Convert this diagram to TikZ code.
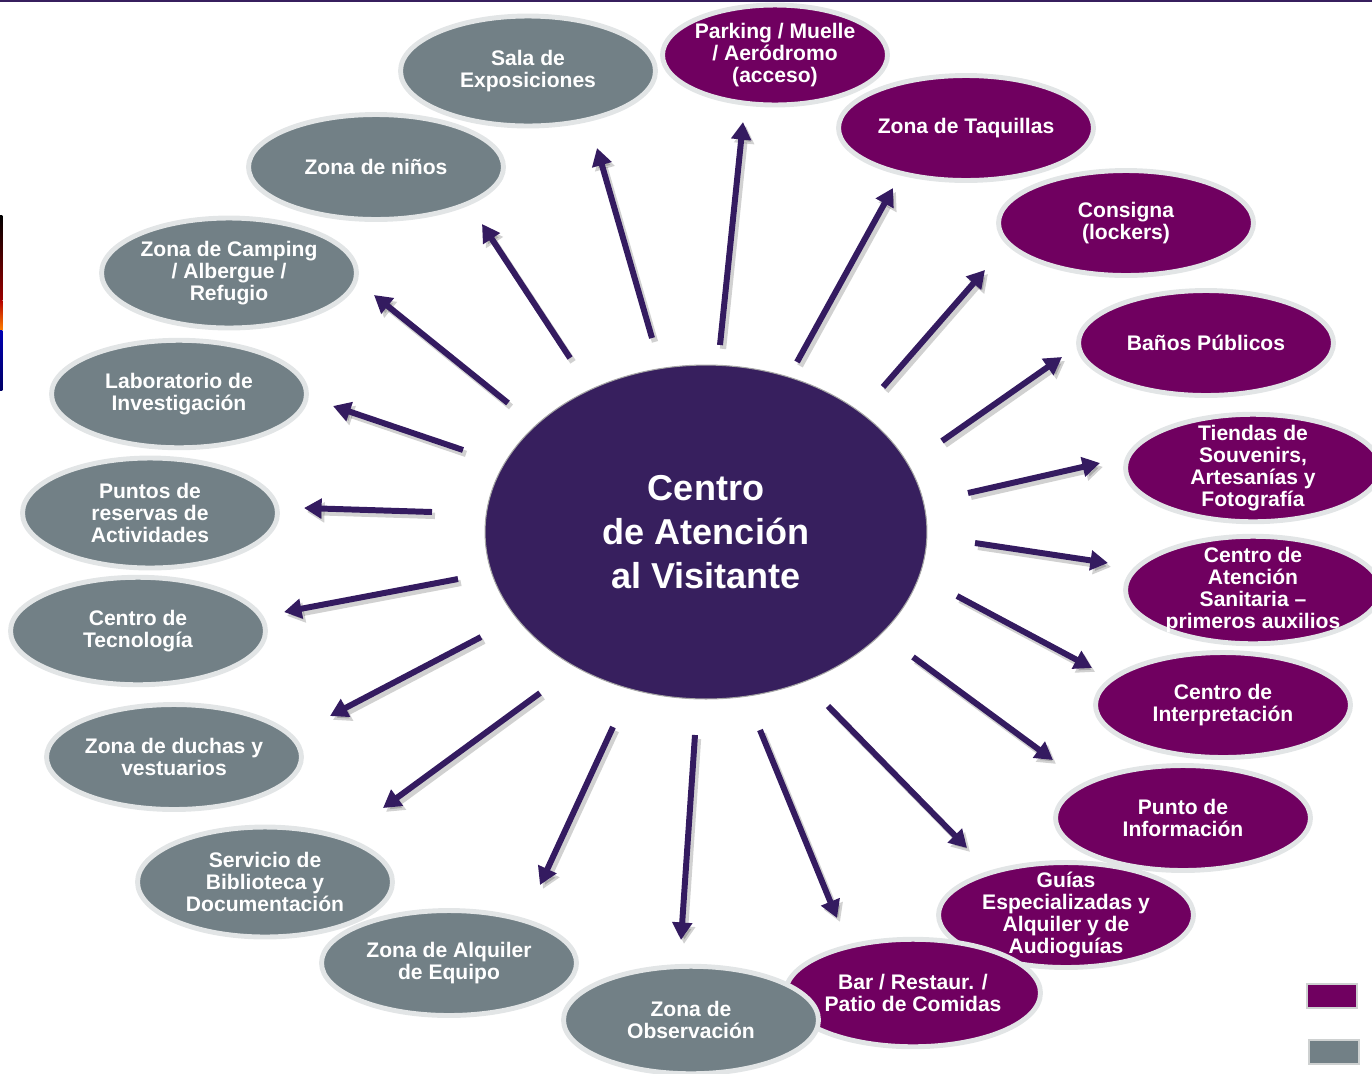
\documentclass[tikz,border=0pt]{standalone}
\usepackage{fontspec}
\setmainfont{Liberation Sans}
\usetikzlibrary{arrows.meta,shapes.geometric}
\definecolor{hubfill}{RGB}{55,31,94}
\definecolor{arrowcol}{RGB}{52,27,96}
\definecolor{plumfill}{RGB}{112,0,96}
\definecolor{slatefill}{RGB}{114,128,134}
\definecolor{rimgray}{RGB}{226,229,230}

\tikzset{
    zone/.style={ellipse, draw=rimgray, line width=2.8pt, text=white,
        font=\bfseries\fontsize{12}{12.5}\selectfont, align=center,
        inner xsep=-10pt, inner ysep=-15pt,
        minimum width=5.1cm, minimum height=2.1cm},
    service/.style={zone, fill=plumfill},
    facility/.style={zone, fill=slatefill},
    spoke/.style={arrowcol, line width=3.4pt, -{Triangle[length=10pt, width=11pt]}},
    spokeshade/.style={black, opacity=0.18, line width=3.6pt, -{Triangle[length=10pt, width=11pt]}},
    legendbox/.style={rectangle, draw=rimgray!80!gray, line width=1.2pt,
        minimum width=1cm, minimum height=0.48cm, inner sep=0pt}
}

\begin{document}
\begin{tikzpicture}[x=0.02cm, y=-0.02cm]

\useasboundingbox (0,0) rectangle (1372,1073);
\clip (0,0) rectangle (1372,1073);

% top rule and left strip
\draw[hubfill, line width=1.5pt] (0,1) -- (1372,1);
\shade[top color=black, bottom color=red!60!black] (0,215) rectangle (2.5,300);
\shade[top color=red!70!black, bottom color=orange] (0,300) rectangle (2.5,330);
\shade[top color=blue!70!black, bottom color=blue!40!black] (0,330) rectangle (2.5,390);

% central node
\node[ellipse, fill=hubfill, draw=gray!70, line width=0.6pt, text=white,
    font=\bfseries\fontsize{20.5}{25}\selectfont, align=center, inner sep=0pt,
    minimum width=8.84cm, minimum height=6.68cm] (cav) at (706,532)
    {Centro\\de Atención\\al Visitante};

% purple ring (right)
\node[facility, minimum height=2.2cm] (sala) at (528,71) {Sala de\\Exposiciones};
\node[service, minimum width=4.5cm, minimum height=2.0cm] (parking) at (775,55) {Parking / Muelle\\/ Aeródromo\\(acceso)};
\node[service] (taquillas) at (966,128) {Zona de Taquillas};
\node[service] (consigna) at (1126,223) {Consigna\\(lockers)};
\node[service] (banos) at (1206,343) {Baños Públicos};
\node[service, minimum height=2.15cm] (tiendas) at (1253,468) {Tiendas de\\Souvenirs,\\Artesanías y\\Fotografía};
\node[service, minimum height=2.15cm] (sanitaria) at (1253,590) {Centro de\\Atención\\Sanitaria –\\primeros auxilios};
\node[service] (interp) at (1223,705) {Centro de\\Interpretación};
\node[service] (info) at (1183,818) {Punto de\\Información};
\node[service] (guias) at (1066,915) {Guías\\Especializadas y\\Alquiler y de\\Audioguías};
\node[service, minimum height=2.15cm] (bar) at (913,993) {Bar / Restaur. /\\Patio de Comidas};

% gray ring (left)
\node[facility] (ninos) at (376,167) {Zona de niños};
\node[facility, minimum height=2.2cm] (camping) at (229,273) {Zona de Camping\\/ Albergue /\\Refugio};
\node[facility, minimum height=2.15cm] (lab) at (179,394) {Laboratorio de\\Investigación};
\node[facility, minimum height=2.2cm] (reservas) at (150,513) {Puntos de\\reservas de\\Actividades};
\node[facility, minimum height=2.15cm] (tecno) at (138,631) {Centro de\\Tecnología};
\node[facility] (duchas) at (174,757) {Zona de duchas y\\vestuarios};
\node[facility, minimum height=2.2cm] (biblio) at (265,882) {Servicio de\\Biblioteca y\\Documentación};
\node[facility] (alquiler) at (449,963) {Zona de Alquiler\\de Equipo};
\node[facility, minimum height=2.15cm] (observ) at (691,1020) {Zona de\\Observación};

% spokes
\foreach \ax/\ay/\bx/\by [count=\k] in {
    652/338/597/148, 720/345/743/122, 797/362/893/188,
    883/387/985/270, 942/441/1062/357, 968/493/1100/463,
    975/543/1108/563, 957/596/1092/668, 913/657/1053/760,
    828/706/967/848, 760/730/837/918, 695/735/681/940,
    613/727/540/885, 540/693/383/808, 481/637/330/716,
    458/579/284/612, 432/512/304/508, 463/450/333/406,
    508/403/374/295, 570/358/482/224}
{
    \coordinate (tail\k) at (\ax,\ay);
    \coordinate (head\k) at (\bx,\by);
    \draw[spokeshade, transform canvas={shift={(1.7pt,-2.2pt)}}] (tail\k) -- (head\k);
    \draw[spoke] (tail\k) -- (head\k);
}

% legend
\node[legendbox, fill=plumfill] (legplum) at (1332,996) {};
\node[legendbox, fill=slatefill] (legslate) at (1334,1052) {};

\end{tikzpicture}
\end{document}
